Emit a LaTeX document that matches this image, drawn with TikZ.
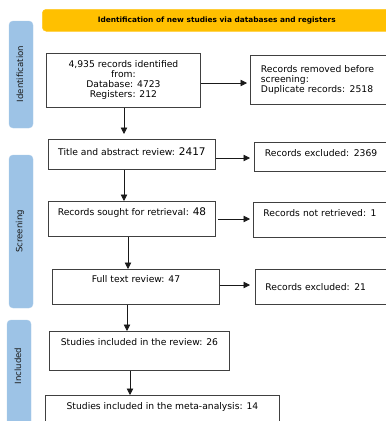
\documentclass[tikz,border=0pt]{standalone}
\usepackage{fontspec}
\setmainfont{DejaVu Sans}
\usetikzlibrary{arrows.meta}
\definecolor{banyellow}{HTML}{FFC000}
\definecolor{phaseblue}{HTML}{9DC3E6}
\definecolor{boxline}{HTML}{404040}
\begin{document}
\begin{tikzpicture}[x=1pt,y=-1pt,
  box/.style={draw=boxline, line width=0.9pt, inner ysep=0pt, inner xsep=0pt, fill=white,
    font=\fontsize{9.2}{10}\selectfont, anchor=north west},
  sidebox/.style={box, align=left, inner xsep=10.5pt, text width=129pt},
  arr/.style={draw=black!90, line width=0.8pt, -{Triangle[length=6.5pt,width=6.5pt]}},
  phase/.style={fill=phaseblue, draw=phaseblue!85!white, rounded corners=4pt, line width=0.4pt},
  plabel/.style={rotate=90, font=\fontsize{8.6}{10}\selectfont, text=black!90},
  banner/.style={fill=banyellow, draw=banyellow!85!white, rounded corners=4pt, line width=0.5pt,
    anchor=north west, font=\fontsize{7.4}{8}\bfseries\selectfont, inner sep=0pt}]
\useasboundingbox (0,0) rectangle (386,421);
\clip (0,0) rectangle (386,421);

% phase bars
\draw[phase] (9,21) rectangle (33,128);
\draw[phase] (9,155) rectangle (33,308);
\draw[phase] (7,320) rectangle (31,440);
\node[plabel] (lid) at (20,74) {Identification};
\node[plabel] (lsc) at (20,231.5) {Screening};
\node[plabel] (lin) at (18,366) {Included};

% banner
\node[banner, minimum width=349pt, minimum height=22pt] (ban) at (42,9)
  {Identification of new studies via databases and registers};

% boxes
\node[box, minimum width=154pt, minimum height=54pt, align=center] (b1) at (46,53)
  {4,935 records identified\\from:\\Database: 4723\\Registers: 212};
\node[sidebox, minimum height=49pt] (rem) at (250,55)
  {Records removed before\\screening:\\Duplicate records: 2518};

\node[box, minimum width=167pt, text height=16pt, text depth=14pt, align=center] (t) at (48,139)
  {Title and abstract review: {\fontsize{10.5}{10}\selectfont 2417}};
\node[sidebox, text height=14pt, text depth=15pt] (ex1) at (254,142)
  {Records excluded: 2369};

\node[box, minimum width=167pt, text height=14pt, text depth=21pt, align=center] (s) at (48,201)
  {Records sought for retrieval: {\fontsize{10.5}{10}\selectfont 48}};
\node[sidebox, inner xsep=10pt, text width=130pt, text height=14pt, text depth=21pt] (nr) at (253,202)
  {Records not retrieved: 1};

\node[box, minimum width=167pt, text height=13pt, text depth=22pt, align=center] (f) at (52,269)
  {Full text review: 47};
\node[sidebox, inner xsep=10pt, text width=130pt, text height=21pt, text depth=14pt] (ex2) at (255,269)
  {Records excluded: 21};

\node[box, minimum width=180pt, text height=14pt, text depth=25pt, align=center] (sr) at (49,331)
  {Studies included in the review: 26};
\node[box, minimum width=234pt, text height=14pt, text depth=30pt, align=center] (m) at (45,395)
  {Studies included in the meta-analysis: 14};

% vertical arrows
\draw[arr, shorten >=5pt] (124,0 |- b1.south) -- (124,0 |- t.north);
\draw[arr] (124,0 |- t.south) -- (124,0 |- s.north);
\draw[arr] (128,0 |- s.south) -- (128,0 |- f.north);
\draw[arr] (127,0 |- f.south) -- (127,0 |- sr.north);
\draw[arr] (130,0 |- sr.south) -- (130,0 |- m.north);

% horizontal arrows
\draw[arr, shorten >=3pt] (b1.east |- 0,83) -- (rem.west |- 0,83);
\draw[arr, shorten >=4pt] (t.east |- 0,158) -- (ex1.west |- 0,158);
\draw[arr, shorten <=2pt, shorten >=3pt] (s.east |- 0,219) -- (nr.west |- 0,219);
\draw[arr, shorten >=5pt] (f.east |- 0,285) -- (ex2.west |- 0,285);
\end{tikzpicture}
\end{document}
